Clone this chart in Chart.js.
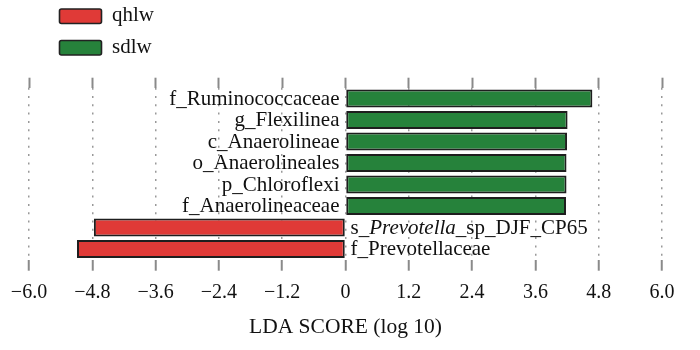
<!DOCTYPE html>
<html lang="en">
<head>
<meta charset="UTF-8">
<title>LDA SCORE (log 10)</title>
<script src="https://cdn.jsdelivr.net/npm/chart.js"></script>
<style>
  html, body { margin: 0; padding: 0; background: #fff; }
</style>
</head>
<body>

<canvas id="lda-chart" width="700" height="350"></canvas>

<script>
// taxa from top to bottom
var taxa = [
    'f_Ruminococcaceae',
    'g_Flexilinea',
    'c_Anaerolineae',
    'o_Anaerolineales',
    'p_Chloroflexi',
    'f_Anaerolineaceae',
    's_Prevotella_sp_DJF_CP65',
    'f_Prevotellaceae'
];
var qhlwScores = [null, null, null, null, null, null, -4.77, -5.09];
var sdlwScores = [4.68, 4.21, 4.20, 4.19, 4.19, 4.18, null, null];
var xTicks = [-6, -4.8, -3.6, -2.4, -1.2, 0, 1.2, 2.4, 3.6, 4.8, 6];
var italicWords = ['Prevotella'];   // genus names set in italics

var serif = "'Liberation Serif', 'DejaVu Serif', serif";

function formatTick(v) {
    if (v === 0) return '0';
    return (v < 0 ? '\u2212' : '') + Math.abs(v).toFixed(1);
}

// split a taxon name on '_' and mark whole genus words as italic
function splitName(name) {
    var bits = name.split('_');
    return bits.map(function(b, k) {
        return {
            text: b + (k < bits.length - 1 ? '_' : ''),
            word: b,
            it: italicWords.indexOf(b) >= 0
        };
    }).reduce(function(out, p) {
        if (p.it) {
            out.push({ text: p.word, it: true });
            if (p.text.length > p.word.length) out.push({ text: '_', it: false });
        } else {
            out.push({ text: p.text, it: false });
        }
        return out;
    }, []);
}

// names written next to the zero line
var barLabels = {
    id: 'barLabels',
    afterDraw: function(chart) {
        var ctx = chart.ctx;
        var xs = chart.scales.x, ys = chart.scales.y;
        var zero = xs.getPixelForValue(0);
        ctx.save();
        ctx.fillStyle = '#111';
        ctx.textBaseline = 'middle';
        ctx.textAlign = 'left';
        taxa.forEach(function(name, i) {
            var yp = ys.getPixelForValue(i) + 1;
            var neg = qhlwScores[i] !== null;
            var parts = splitName(name);
            var total = 0;
            parts.forEach(function(p) {
                ctx.font = (p.it ? 'italic ' : '') + '21px ' + serif;
                p.w = ctx.measureText(p.text).width;
                total += p.w;
            });
            var x = neg ? zero + 5 : zero - 6 - total;
            parts.forEach(function(p) {
                ctx.font = (p.it ? 'italic ' : '') + '21px ' + serif;
                ctx.fillText(p.text, x, yp);
                x += p.w;
            });
        });
        ctx.restore();
    }
};

// legend in the top left corner, one entry per line
var boxLegend = {
    id: 'boxLegend',
    afterDraw: function(chart) {
        var ctx = chart.ctx;
        ctx.save();
        chart.data.datasets.forEach(function(ds, i) {
            var top = 9 + i * 31.5;
            ctx.beginPath();
            ctx.roundRect(59.5, top, 42, 14.5, 2);
            ctx.fillStyle = ds.backgroundColor;
            ctx.fill();
            ctx.lineWidth = 1.6;
            ctx.strokeStyle = '#222';
            ctx.stroke();
            ctx.fillStyle = '#111';
            ctx.font = '21px ' + serif;
            ctx.textBaseline = 'middle';
            ctx.fillText(ds.label, 112, top + 6.5);
        });
        ctx.restore();
    }
};

var useTicks = function(scale) {
    scale.ticks = xTicks.map(function(v) { return { value: v }; });
};

var ctx = document.getElementById('lda-chart').getContext('2d');
var chart = new Chart(ctx, {
    type: 'bar',
    data: {
        labels: taxa,
        datasets: [
            {
                label: 'qhlw',
                data: qhlwScores,
                backgroundColor: '#e03a37',
                borderColor: '#1e1e1e',
                borderWidth: 2,
                borderSkipped: false
            },
            {
                label: 'sdlw',
                data: sdlwScores,
                backgroundColor: '#26823b',
                borderColor: '#1e1e1e',
                borderWidth: 2,
                borderSkipped: false
            }
        ]
    },
    options: {
        indexAxis: 'y',
        responsive: false,
        animation: false,
        grouped: false,
        barPercentage: 0.84,
        categoryPercentage: 1,
        layout: {
            padding: { left: 29, right: 38, top: 77.7, bottom: 6.5 }
        },
        plugins: {
            legend: { display: false },
            tooltip: { enabled: false }
        },
        scales: {
            x: {
                type: 'linear',
                position: 'bottom',
                min: -6,
                max: 6,
                z: 1,
                afterBuildTicks: useTicks,
                grid: {
                    color: 'rgba(70,70,70,0.55)',
                    lineWidth: 1.5,
                    tickLength: 11,
                    tickColor: '#8a8a8a',
                    tickWidth: 2,
                    tickBorderDash: []
                },
                border: { display: false, dash: [2, 6.3] },
                ticks: {
                    padding: 10,
                    color: '#111',
                    font: { family: serif, size: 20 },
                    maxRotation: 0,
                    autoSkip: false,
                    callback: function(v) { return formatTick(v); }
                },
                title: {
                    display: true,
                    text: 'LDA SCORE (log 10)',
                    color: '#111',
                    font: { family: serif, size: 21.5 },
                    padding: { top: 0, bottom: 3 }
                }
            },
            x2: {
                type: 'linear',
                position: 'top',
                min: -6,
                max: 6,
                afterBuildTicks: useTicks,
                grid: {
                    drawOnChartArea: false,
                    tickLength: 10,
                    tickColor: '#8a8a8a',
                    tickWidth: 2
                },
                border: { display: false },
                ticks: { display: false }
            },
            y: {
                type: 'category',
                display: false,
                offset: true
            }
        }
    },
    plugins: [barLabels, boxLegend]
});
</script>

</body>
</html>
